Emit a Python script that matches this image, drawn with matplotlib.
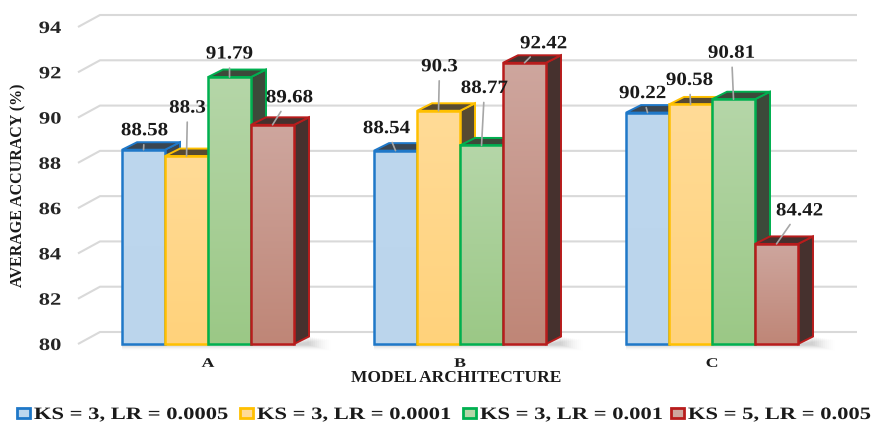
import numpy as np
import matplotlib
matplotlib.use("Agg")
import matplotlib.pyplot as plt
from matplotlib.patches import Polygon, Rectangle
from matplotlib.colors import LinearSegmentedColormap
from matplotlib.patheffects import AbstractPathEffect
from matplotlib.transforms import Affine2D

# ---- data ----
categories = ["A", "B", "C"]
series_labels = ["KS = 3, LR = 0.0005", "KS = 3, LR = 0.0001",
                 "KS = 3, LR = 0.001", "KS = 5, LR = 0.005"]
acc_lr0005 = [88.58, 88.54, 90.22]
acc_lr0001 = [88.3, 90.3, 90.58]
acc_lr001 = [91.79, 88.77, 90.81]
acc_ks5 = [89.68, 92.42, 84.42]
y_ticks = [80, 82, 84, 86, 88, 90, 92, 94]

series = [acc_lr0005, acc_lr0001, acc_lr001, acc_ks5]

# ---- style ----
face_top = ["#BDD7EE", "#FFDB97", "#B5D6A8", "#CEA69E"]
face_bot = ["#BBD5EC", "#FFD27B", "#9BC886", "#BF8677"]
edge_cols = ["#1F78C8", "#FFC000", "#00B050", "#B81C1C"]
dark_cols = ["#3A4652", "#574A31", "#3C4A3A", "#46312E"]

# label offsets (pixels) from each bar's top centre
label_offsets = [
    [(1, 19), (-9, 22), (-5, 19)],
    [(1, 48), (1, 44), (-1, 24)],
    [(0, 23), (3, 57), (-2, 46)],
    [(17, 27), (19, 19), (23, 33)],
]


class StretchX(AbstractPathEffect):
    """Draw text glyphs widened horizontally about an anchor edge."""

    def __init__(self, sx, anchor="center"):
        super().__init__()
        self.sx = sx
        self.anchor = anchor

    def draw_path(self, renderer, gc, tpath, affine, rgbFace=None):
        ext = tpath.get_extents(affine)
        x0 = {"left": ext.x0, "right": ext.x1}.get(self.anchor, 0.5 * (ext.x0 + ext.x1))
        t = affine + Affine2D().translate(-x0, 0).scale(self.sx, 1).translate(x0, 0)
        renderer.draw_path(gc, tpath, t, rgbFace)


serif = "Liberation Serif"
txt_col = "#1a1a1a"
W, H = 878, 429
fig = plt.figure(figsize=(W / 100, H / 100), dpi=100)
ax_l, ax_b, ax_w, ax_h = 78, 85, 757, 317
ax = fig.add_axes([ax_l / W, ax_b / H, ax_w / W, ax_h / H])
ax.set_facecolor("none")
xlim = (-0.516, 2.488)
ylim = (80, 94)
ax.set_xlim(*xlim)
ax.set_ylim(*ylim)
for s in ax.spines.values():
    s.set_visible(False)

px_x = (xlim[1] - xlim[0]) / ax_w
px_y = (ylim[1] - ylim[0]) / ax_h

# back-wall gridlines with perspective offset
gx, gy = 22 * px_x, 12 * px_y
for v in y_ticks:
    ax.plot([xlim[0], xlim[0] + gx, xlim[1] + gx], [v, v + gy, v + gy],
            color="#d9d9d9", lw=1.5, zorder=0, clip_on=False,
            solid_capstyle="butt")

bar_w = 0.1706
dx, dy = 15 * px_x, 7.5 * px_y
x = np.arange(len(categories))

# soft floor shadow to the right of each group
for i in range(len(categories)):
    xr = x[i] + 2 * bar_w
    for k in range(12):
        a = 0.06 * (1 - k / 12)
        ax.add_patch(Polygon([(xr - 4 * bar_w, 80), (xr, 80),
                              (xr + dx + k * 2 * px_x, 80 + dy - k * 0.3 * px_y),
                              (xr + dx + k * 2 * px_x, 80 - (1 + k * 0.5) * px_y),
                              (xr - 4 * bar_w, 80 - (1 + k * 0.5) * px_y)],
                             closed=True, facecolor="#808080", edgecolor="none",
                             alpha=a, zorder=0.5, clip_on=False))

z = 1.0
for i in range(len(categories)):
    for j, vals in enumerate(series):
        v = vals[i]
        x0 = x[i] + (j - 2) * bar_w
        x1 = x0 + bar_w
        side = Polygon([(x1, 80), (x1 + dx, 80 + dy), (x1 + dx, v + dy), (x1, v)],
                       closed=True, facecolor=dark_cols[j], edgecolor=edge_cols[j],
                       lw=1.4, zorder=z, clip_on=False, joinstyle="miter")
        ax.add_patch(side)
        top = Polygon([(x0, v), (x1, v), (x1 + dx, v + dy), (x0 + dx, v + dy)],
                      closed=True, facecolor=dark_cols[j], edgecolor=edge_cols[j],
                      lw=1.4, zorder=z + 0.1, clip_on=False, joinstyle="miter")
        ax.add_patch(top)
        # front face with a vertical gradient
        rect = Rectangle((x0, 80), bar_w, v - 80, facecolor="none",
                         edgecolor=edge_cols[j], lw=1.8, zorder=z + 0.3,
                         clip_on=False, joinstyle="miter")
        cmap = LinearSegmentedColormap.from_list("g", [face_top[j], face_bot[j]])
        grad = np.linspace(0, 1, 100).reshape(-1, 1)
        im = ax.imshow(grad, extent=[x0, x1, 80, v], aspect="auto", cmap=cmap,
                       origin="upper", zorder=z + 0.2, interpolation="bilinear")
        ax.add_patch(rect)
        im.set_clip_path(rect)
        z += 1

        ox, oy = label_offsets[j][i]
        ax.annotate(f"{v:g}", xy=(x0 + bar_w / 2, v), xytext=(ox, oy),
                    textcoords="offset pixels", ha="center", va="center",
                    fontsize=13.5, fontweight="bold", family=serif, color=txt_col,
                    zorder=100, path_effects=[StretchX(1.12)],
                    arrowprops=dict(arrowstyle="-", color="#a6a6a6", lw=1.2,
                                    shrinkA=2, shrinkB=0))

ax.set_xlim(*xlim)
ax.set_ylim(*ylim)

ax.set_yticks(y_ticks)
ax.set_yticklabels([str(t) for t in y_ticks], family=serif, fontweight="bold",
                   fontsize=12.5, color="#262626")
for t in ax.get_yticklabels():
    t.set_path_effects([StretchX(1.3, "right")])
ax.tick_params(axis="y", length=0, pad=12)
ax.set_xticks(x)
ax.set_xticklabels(categories, family=serif, fontweight="bold", fontsize=9.5,
                   color=txt_col)
for t in ax.get_xticklabels():
    t.set_path_effects([StretchX(1.35)])
ax.tick_params(axis="x", length=0, pad=10)

fig.text(456 / W, 1 - 378 / H, "MODEL ARCHITECTURE", ha="center", va="center",
         family=serif, fontweight="bold", fontsize=12.5, color=txt_col)
fig.text(18 / W, 1 - 185 / H, "AVERAGE ACCURACY (%)", ha="center", va="center",
         rotation=90, family=serif, fontweight="bold", fontsize=11.5, color=txt_col)

# legend row along the bottom edge
legend_x = [17, 240, 463, 671]
leg_y = 413
for j, lx in enumerate(legend_x):
    fig.patches.append(Rectangle((lx / W, 1 - (leg_y + 5) / H), 13 / W, 10 / H,
                                 transform=fig.transFigure, facecolor=face_top[j],
                                 edgecolor=edge_cols[j], lw=2))
    fig.text((lx + 17) / W, 1 - leg_y / H, series_labels[j], ha="left",
             va="center_baseline", family=serif, fontweight="bold", fontsize=12.5,
             color=txt_col, path_effects=[StretchX(1.3, "left")])

fig.savefig("out.png", dpi=100)
